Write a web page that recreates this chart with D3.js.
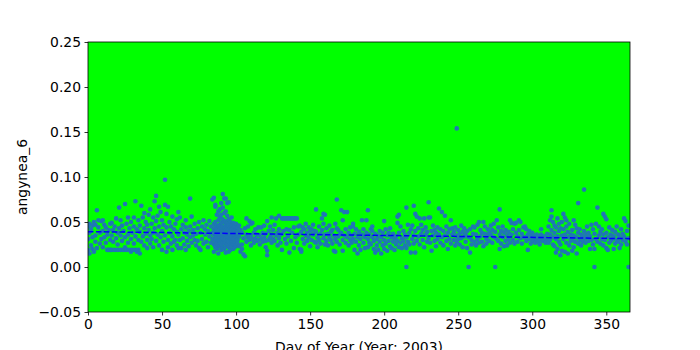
<!DOCTYPE html>
<html>
<head>
<meta charset="utf-8">
<script src="https://cdn.jsdelivr.net/npm/d3@7"></script>
<style>
  html, body { margin: 0; padding: 0; background: #ffffff; }
  svg text { font-family: "DejaVu Sans", sans-serif; }
</style>
</head>
<body>
<svg id="chart" width="700" height="350"></svg>
<script>
// ---- data ----
const xTicks = [0, 50, 100, 150, 200, 250, 300, 350];
const yTicks = [-0.05, 0.00, 0.05, 0.10, 0.15, 0.20, 0.25];
const xDomain = [0, 366];
const yDomain = [-0.05, 0.25];
const trendDays = [0, 366];
const trendValues = [0.0393, 0.0315];
const xLabel = "Day of Year (Year: 2003)";
const yLabel = "angynea_6";

// each row: [day, value, value, ...]
const observations = [
[0,0.031,0.045,0.019],[1,0.015,0.038,0.048],[2,0.024,0.042],[3,0.046,0.02,0.033],[4,0.05,0.017],
[5,0.035,0.028,0.047],[6,0.063,0.021],[7,0.044,0.052],[8,0.038,0.026],[9,0.051,0.031],
[10,0.052,0.022,0.04],[11,0.047,0.033],[12,0.027,0.044],[13,0.036,0.019],[14,0.019,0.041],
[15,0.019,0.048,0.03],[16,0.019,0.035,0.049],[17,0.041,0.028],[18,0.019,0.045],[19,0.054,0.032],
[20,0.019,0.038,0.025],[21,0.066,0.043],[22,0.019,0.035,0.052],[23,0.029,0.046],[24,0.019,0.04],
[25,0.07,0.033,0.022],[26,0.019,0.048],[27,0.055,0.036,0.027],[28,0.019,0.043],[29,0.031,0.05,0.017],
[30,0.019,0.038],[31,0.045,0.026,0.055],[32,0.073,0.019,0.034],[33,0.042,0.017],[34,0.019,0.052,0.03],
[35,0.015,0.039,0.046],[36,0.068,0.028],[37,0.055,0.034],[38,0.06,0.024,0.043],[39,0.037,0.05],
[40,0.03,0.047,0.021],[41,0.041,0.058],[42,0.064,0.026,0.035],[43,0.048,0.031],[44,0.038,0.055,0.022],
[45,0.073,0.043],[46,0.079,0.029,0.051],[47,0.036,0.057],[48,0.067,0.024,0.045],[49,0.061,0.033],
[50,0.04,0.052,0.019],[51,0.028,0.047],[52,0.097,0.069,0.035],[53,0.017,0.044,0.059],[54,0.067,0.03,0.022],
[55,0.05,0.038],[56,0.026,0.045],[57,0.034,0.056,0.019],[58,0.042,0.028],[59,0.03,0.048],
[60,0.039,0.053,0.024],[61,0.061,0.021,0.036],[62,0.055,0.03],[63,0.042,0.021],[64,0.032,0.047],
[65,0.038,0.025],[66,0.044,0.019,0.052],[67,0.029,0.036],[68,0.04,0.023],[69,0.076,0.033,0.045],
[70,0.056,0.027],[71,0.041,0.035],[72,0.03,0.048],[73,0.037,0.024],[74,0.043,0.029],
[75,0.021,0.05],[76,0.019,0.038],[77,0.031,0.045],[78,0.052,0.026],[79,0.036,0.042],
[80,0.028,0.047],[81,0.04,0.022],[82,0.034,0.051],[83,0.045,0.027],[84,0.075,0.038,0.031],
[85,0.077,0.048,0.042,0.036,0.031,0.025,0.017],
[86,0.069,0.067,0.05,0.044,0.039,0.033,0.028,0.022],
[87,0.058,0.046,0.041,0.037,0.032,0.027,0.02],
[88,0.062,0.052,0.045,0.04,0.035,0.03,0.024,0.015],
[89,0.064,0.055,0.047,0.042,0.038,0.033,0.029,0.023],
[90,0.071,0.058,0.049,0.043,0.039,0.034,0.03,0.025,0.019],
[91,0.081,0.066,0.053,0.045,0.04,0.036,0.031,0.027,0.021],
[92,0.076,0.06,0.05,0.044,0.039,0.035,0.03,0.026,0.02],
[93,0.076,0.062,0.051,0.046,0.041,0.036,0.032,0.028,0.023,0.016],
[94,0.071,0.057,0.048,0.043,0.038,0.034,0.029,0.025],
[95,0.072,0.053,0.046,0.041,0.037,0.033,0.028,0.022,0.017],
[96,0.05,0.044,0.04,0.035,0.031,0.026,0.019],
[97,0.055,0.047,0.042,0.038,0.034,0.029,0.024],
[98,0.049,0.043,0.039,0.035,0.03,0.025,0.02],
[99,0.045,0.041,0.036,0.032,0.028,0.022],
[100,0.048,0.042,0.037,0.033,0.029,0.024],
[101,0.044,0.039,0.034,0.03,0.026],
[102,0.046,0.023,0.034],[103,0.041,0.017],[104,0.025,0.038,0.02],[105,0.014,0.032],[106,0.012,0.043],
[107,0.054,0.036,0.028],[108,0.033,0.045],[109,0.051,0.03],[110,0.048,0.035,0.024],[111,0.049,0.031],
[112,0.038,0.027],[113,0.042,0.032],[114,0.036,0.029],[115,0.03,0.044],[116,0.035,0.025],
[117,0.044,0.031],[118,0.028,0.038],[119,0.046,0.033],[120,0.037,0.022,0.029],[121,0.051,0.013,0.018],
[122,0.04,0.03],[123,0.033,0.045],[124,0.055,0.036,0.027],[125,0.041,0.031],[126,0.029,0.047],
[127,0.054,0.035],[128,0.038,0.024],[129,0.057,0.042,0.032],[130,0.036,0.027],[131,0.054,0.019,0.037],
[132,0.054,0.04],[133,0.054,0.031],[134,0.054,0.042,0.026],[135,0.054,0.034],[136,0.054,0.041,0.016],
[137,0.054,0.029],[138,0.054,0.038],[139,0.054,0.021,0.044],[140,0.054,0.033],[141,0.054,0.027],
[142,0.036,0.045],[143,0.046,0.02],[144,0.019,0.017,0.039],[145,0.031,0.044],[146,0.042,0.026],
[147,0.035,0.048],[148,0.029,0.038],[149,0.044,0.033],[150,0.04,0.023],[151,0.042,0.03],
[152,0.036,0.047],[153,0.028,0.04],[154,0.064,0.039,0.027],[155,0.033,0.022],[156,0.045,0.03],
[157,0.037,0.026],[158,0.054,0.041],[159,0.048,0.032,0.059],[160,0.058,0.036,0.025],
[161,0.043,0.029],[162,0.037,0.024],[163,0.046,0.033],[164,0.03,0.039],[165,0.041,0.026],
[166,0.018,0.035],[167,0.048,0.017,0.031],[168,0.075,0.043,0.028],[169,0.041,0.034],[170,0.036,0.025],
[171,0.063,0.038],[172,0.052,0.018,0.03],[173,0.061,0.035],[174,0.042,0.027],[175,0.061,0.033],
[176,0.038,0.024],[177,0.03,0.044],[178,0.035,0.027],[179,0.048,0.045,0.031],[180,0.019,0.037],
[181,0.028,0.042],[182,0.015,0.033],[183,0.039,0.024],[184,0.019,0.031],[185,0.052,0.036],
[186,0.027,0.042],[187,0.033,0.021],[188,0.052,0.038],[189,0.063,0.022,0.031],[190,0.036,0.027],
[191,0.042,0.025],[192,0.045,0.033,0.04],[193,0.02,0.029],[194,0.037,0.016],[195,0.031,0.024],
[196,0.035,0.019],[197,0.028,0.04],[198,0.015,0.033],[199,0.038,0.024],[200,0.051,0.03,0.02],
[201,0.042,0.026],[202,0.035,0.018],[203,0.038,0.029],[204,0.043,0.023],[205,0.021,0.033],
[206,0.028,0.037],[207,0.019,0.031],[208,0.034,0.025],[209,0.056,0.049,0.029],[210,0.038,0.022,0.058],
[211,0.045,0.027],[212,0.032,0.021],[213,0.04,0.029],[214,0.036,0.024],[215,0.066,0.0,0.021,0.033],
[216,0.047,0.028],[217,0.038,0.025],[218,0.016,0.042],[219,0.031,0.046],[220,0.068,0.035,0.026],
[221,0.059,0.016,0.04],[222,0.056,0.029],[223,0.043,0.034],[224,0.054,0.025],[225,0.037,0.047],
[226,0.03,0.041],[227,0.054,0.022],[228,0.036,0.044],[229,0.028,0.039],[230,0.072,0.055,0.032],
[231,0.055,0.027],[232,0.04,0.018],[233,0.035,0.046],[234,0.029,0.041],[235,0.038,0.023],
[236,0.044,0.031],[237,0.065,0.036],[238,0.027,0.042],[239,0.061,0.033],[240,0.04,0.024],
[241,0.057,0.035],[242,0.029,0.045],[243,0.038,0.02],[244,0.042,0.031],[245,0.052,0.026],
[246,0.036,0.043],[247,0.03,0.039],[248,0.044,0.024],[249,0.154,0.035,0.028],[250,0.041,0.031],
[251,0.025,0.037],[252,0.046,0.032],[253,0.039,0.022],[254,0.034,0.043],[255,0.028,0.036],
[256,0.04,0.021],[257,0.0,0.033],[258,0.016,0.042],[259,0.03,0.025],[260,0.037,0.045],
[261,0.044,0.028],[262,0.024,0.036],[263,0.047,0.031],[264,0.05,0.027],[265,0.034,0.041],
[266,0.028,0.038],[267,0.05,0.023],[268,0.037,0.045],[269,0.031,0.026],[270,0.042,0.035],
[271,0.029,0.038],[272,0.036,0.046],[273,0.041,0.027],[274,0.048,0.033],[275,0.0,0.039],
[276,0.052,0.031],[277,0.044,0.029],[278,0.064,0.02,0.036],[279,0.04,0.026],[280,0.033,0.045],
[281,0.023,0.038],[282,0.041,0.029],[283,0.024,0.035],[284,0.039,0.031],[285,0.052,0.027],
[286,0.049,0.036],[287,0.042,0.03],[288,0.048,0.026],[289,0.049,0.038],[290,0.034,0.028],
[291,0.052,0.041],[292,0.05,0.032],[293,0.037,0.026],[294,0.033,0.044],[295,0.045,0.033],
[296,0.042,0.029],[297,0.019,0.036],[298,0.031,0.04],[299,0.026,0.035],[300,0.038,0.03],
[301,0.029,0.033],[302,0.035,0.027],[303,0.031,0.036],[304,0.034,0.028],[305,0.03,0.025],
[306,0.042,0.036],[307,0.033,0.029],[308,0.03,0.034],[309,0.027,0.032],[310,0.031,0.037],
[311,0.045,0.027],[312,0.052,0.036,0.03],[313,0.063,0.056,0.041],[314,0.05,0.025,0.033],[315,0.046,0.023,0.038],
[316,0.044,0.031,0.016],[317,0.054,0.034,0.02],[318,0.048,0.028,0.04],[319,0.043,0.013,0.025],[320,0.05,0.035,0.018],
[321,0.059,0.031,0.042],[322,0.055,0.017,0.036],[323,0.052,0.027,0.045],[324,0.039,0.015,0.033],[325,0.048,0.024],
[326,0.036,0.029],[327,0.041,0.018,0.031],[328,0.052,0.035,0.022],[329,0.047,0.028],[330,0.043,0.015,0.033],
[331,0.071,0.038,0.026],[332,0.03,0.042],[333,0.036,0.024],[334,0.034,0.028],[335,0.086,0.04,0.031],
[336,0.027,0.037],[337,0.033,0.045],[338,0.029,0.038],[339,0.02,0.034],[340,0.047,0.03],
[341,0.042,0.025],[342,0.0,0.02,0.037],[343,0.048,0.031],[344,0.066,0.028],[345,0.045,0.035],
[346,0.039,0.026],[347,0.031,0.042],[348,0.059,0.036,0.024],[349,0.056,0.03],[350,0.053,0.021,0.038],
[351,0.019,0.033],[352,0.044,0.027],[353,0.036,0.029],[354,0.031,0.041],[355,0.02,0.034],
[356,0.039,0.026],[357,0.045,0.03],[358,0.028,0.036],[359,0.033,0.021],[360,0.042,0.025],
[361,0.037,0.03],[362,0.054,0.034],[363,0.051,0.028],[364,0.025,0.04],[365,0.0,0.046,0.032]
];

// ---- layout ----
const W = 700, H = 350;
const margin = { left: 88, right: 70, top: 42, bottom: 38 };
const iw = W - margin.left - margin.right;
const ih = H - margin.top - margin.bottom;

const points = [];
observations.forEach(row => {
  const day = row[0];
  row.slice(1).forEach(v => points.push({ day, value: v }));
});

const svg = d3.select("#chart");
const x = d3.scaleLinear().domain(xDomain).range([margin.left, margin.left + iw]);
const y = d3.scaleLinear().domain(yDomain).range([margin.top + ih, margin.top]);

// plot background
svg.append("rect")
  .attr("x", margin.left).attr("y", margin.top)
  .attr("width", iw).attr("height", ih)
  .attr("fill", "#00ff00");

svg.append("clipPath").attr("id", "clip")
  .append("rect").attr("x", margin.left).attr("y", margin.top)
  .attr("width", iw).attr("height", ih);

const g = svg.append("g").attr("clip-path", "url(#clip)");

g.selectAll("circle.pt").data(points).enter().append("circle")
  .attr("class", "pt")
  .attr("cx", d => x(d.day))
  .attr("cy", d => y(d.value))
  .attr("r", 2.3)
  .attr("fill", "#1f77b4");

const trend = trendDays.map((d, i) => ({ day: d, value: trendValues[i] }));
g.append("path")
  .datum(trend)
  .attr("d", d3.line().x(d => x(d.day)).y(d => y(d.value)))
  .attr("fill", "none")
  .attr("stroke", "#0000ff")
  .attr("stroke-width", 1.5)
  .attr("stroke-dasharray", "5.5,2.4");

// axes
const fontSize = "13.9px";
const xAxis = svg.append("g")
  .attr("transform", `translate(0,${margin.top + ih})`)
  .call(d3.axisBottom(x).tickValues(xTicks).tickFormat(d3.format("d")).tickSizeOuter(0).tickSize(3.5).tickPadding(3.5));
const yAxis = svg.append("g")
  .attr("transform", `translate(${margin.left},0)`)
  .call(d3.axisLeft(y).tickValues(yTicks).tickFormat(d3.format(".2f")).tickSizeOuter(0).tickSize(3.5).tickPadding(3.5));

[xAxis, yAxis].forEach(a => {
  a.select(".domain").remove();
  a.selectAll(".tick line").attr("stroke", "#000").attr("stroke-width", 0.8);
  a.selectAll(".tick text").attr("fill", "#000").style("font-size", fontSize).style("font-family", "DejaVu Sans");
});

// spines
svg.append("rect")
  .attr("x", margin.left).attr("y", margin.top)
  .attr("width", iw).attr("height", ih)
  .attr("fill", "none").attr("stroke", "#000").attr("stroke-width", 0.8);

// labels
svg.append("text")
  .attr("x", margin.left + iw / 2).attr("y", 352)
  .attr("text-anchor", "middle")
  .style("font-size", fontSize)
  .text(xLabel);

svg.append("text")
  .attr("transform", `translate(27,${margin.top + ih / 2}) rotate(-90)`)
  .attr("text-anchor", "middle")
  .style("font-size", fontSize)
  .text(yLabel);
</script>
</body>
</html>
